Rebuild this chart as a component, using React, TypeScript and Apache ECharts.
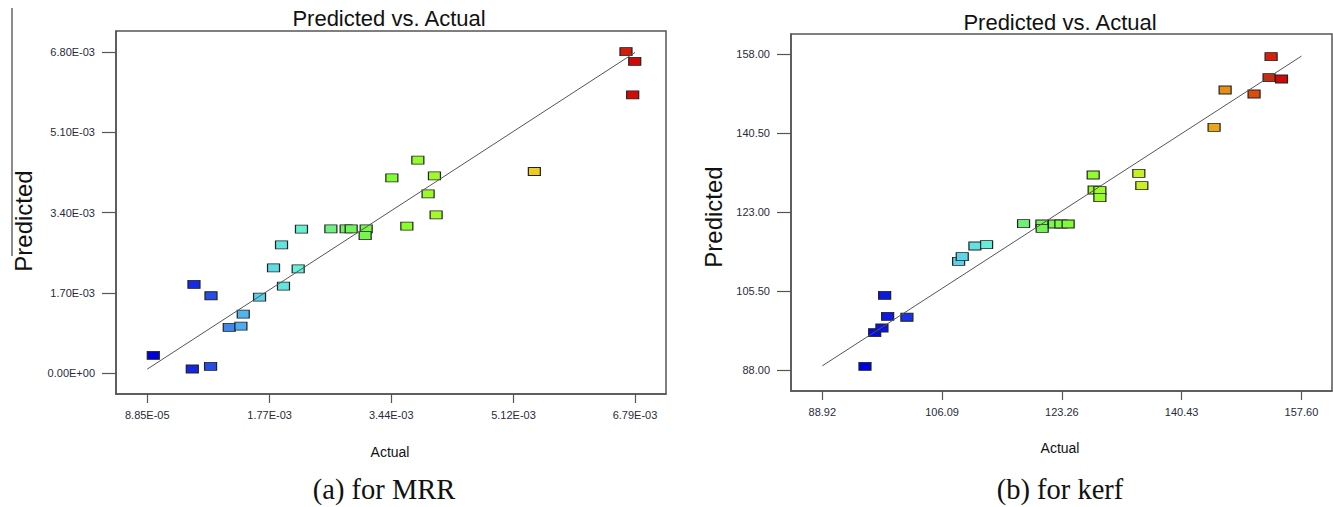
import React, { useEffect, useRef } from "react";
import * as echarts from "echarts";

// ---- Data: (a) MRR ----
const mrrActual = [
  1.71e-4, 7.07e-4, 9.58e-4, 7.3e-4, 9.64e-4, 1.215e-3, 1.375e-3, 1.407e-3,
  1.631e-3, 1.96e-3, 1.823e-3, 2.162e-3, 1.933e-3, 2.207e-3, 2.611e-3,
  2.821e-3, 2.89e-3, 3.096e-3, 3.082e-3, 3.449e-3, 3.806e-3, 4.034e-3,
  3.947e-3, 4.057e-3, 3.655e-3, 5.407e-3, 6.666e-3, 6.786e-3, 6.758e-3,
];
const mrrPredicted = [
  3.81e-4, 9.1e-5, 1.48e-4, 1.882e-3, 1.641e-3, 9.73e-4, 1.0e-3, 1.254e-3,
  1.613e-3, 1.846e-3, 2.233e-3, 2.212e-3, 2.719e-3, 3.051e-3, 3.057e-3,
  3.057e-3, 3.057e-3, 3.057e-3, 2.914e-3, 4.136e-3, 4.51e-3, 4.178e-3,
  3.797e-3, 3.353e-3, 3.115e-3, 4.271e-3, 6.808e-3, 6.603e-3, 5.891e-3,
];
const mrrXTicks = [8.85e-5, 1.77e-3, 3.44e-3, 5.12e-3, 6.79e-3];
const mrrYTicks = [0, 1.7e-3, 3.4e-3, 5.1e-3, 6.8e-3];

// ---- Data: (b) kerf ----
const kerfActual = [
  95.04, 96.43, 97.47, 98.29, 97.86, 101.05, 108.46, 108.98, 110.8, 112.47,
  117.77, 120.4, 120.44, 122.19, 123.12, 124.16, 127.75, 127.89, 128.71,
  128.71, 134.29, 134.72, 145.08, 146.66, 150.81, 153.25, 152.96, 154.74,
];
const kerfPredicted = [
  88.82, 96.27, 97.31, 99.91, 104.56, 99.69, 112.1, 113.12, 115.49, 115.78,
  120.44, 120.37, 119.42, 120.37, 120.37, 120.37, 131.24, 127.91, 127.76,
  126.2, 131.61, 128.87, 141.81, 150.08, 149.2, 157.47, 152.81, 152.52,
];
const kerfXTicks = [88.92, 106.09, 123.26, 140.43, 157.6];
const kerfYTicks = [88, 105.5, 123, 140.5, 158];

const titles = ["Predicted vs. Actual", "Predicted vs. Actual"];
const captions = ["(a) for MRR", "(b) for kerf"];

const palette = [
  "#0000dd", "#1a30e4", "#58c8f0", "#66f0d8", "#70f060", "#80ff30",
  "#a8f828", "#dcec20", "#f0c820", "#e07010", "#d00808",
];

function sci(v: number): string {
  if (v === 0) return "0.00E+00";
  let e = Math.floor(Math.log10(Math.abs(v)));
  let m = v / Math.pow(10, e);
  if (Math.abs(m) >= 9.995) {
    m /= 10;
    e += 1;
  }
  const s = e < 0 ? "-" : "+";
  return m.toFixed(2) + "E" + s + String(Math.abs(e)).padStart(2, "0");
}

const FONT = "'Liberation Sans', Arial, sans-serif";

function makeAxis(
  gridIndex: number,
  min: number,
  max: number,
  ticks: number[],
  fmt: (v: number) => string,
  isX: boolean
) {
  return {
    type: "value",
    gridIndex,
    min,
    max,
    splitLine: { show: false },
    axisLine: { show: true, onZero: false, lineStyle: { color: "#555", width: 1.5 } },
    axisTick: {
      show: true,
      customValues: ticks,
      length: isX ? 9 : 14,
      lineStyle: { color: "#555", width: 1.2 },
    },
    axisLabel: {
      customValues: ticks,
      formatter: (v: number) => fmt(v),
      fontFamily: FONT,
      fontSize: 11,
      color: "#2a2a3a",
      margin: isX ? 15 : 21,
    },
  };
}

export default function App() {
  const ref = useRef<HTMLDivElement>(null);
  useEffect(() => {
    if (!ref.current) return;
    const chart = echarts.init(ref.current, undefined, { renderer: "svg" });
    const mrrData = mrrActual.map((a, i) => [a, mrrPredicted[i]]);
    const kerfData = kerfActual.map((a, i) => [a, kerfPredicted[i]]);
    const scatterStyle = {
      type: "scatter",
      symbol: "rect",
      symbolSize: [12, 8],
      itemStyle: { borderColor: "#222", borderWidth: 1, opacity: 1 },
      z: 2,
    };
    const lineStyle = {
      type: "line",
      symbol: "none",
      lineStyle: { color: "#555", width: 1 },
      z: 3,
      silent: true,
    };
    chart.setOption({
      animation: false,
      grid: [
        { left: 116, top: 31, width: 550, height: 363, show: true, borderColor: "#555", borderWidth: 1.5 },
        { left: 791, top: 34, width: 541, height: 357, show: true, borderColor: "#555", borderWidth: 1.5 },
      ],
      xAxis: [
        makeAxis(0, -3.413e-4, 7.2157e-3, mrrXTicks, sci, true),
        makeAxis(1, 84.436, 161.98, kerfXTicks, (v) => v.toFixed(2), true),
      ],
      yAxis: [
        makeAxis(0, -4.377e-4, 7.244e-3, mrrYTicks, sci, false),
        makeAxis(1, 83.344, 162.5, kerfYTicks, (v) => v.toFixed(2), false),
      ],
      visualMap: [
        {
          type: "continuous",
          show: false,
          seriesIndex: 0,
          dimension: 0,
          min: Math.min(...mrrActual),
          max: Math.max(...mrrActual),
          inRange: { color: palette },
        },
        {
          type: "continuous",
          show: false,
          seriesIndex: 2,
          dimension: 0,
          min: Math.min(...kerfActual),
          max: Math.max(...kerfActual),
          inRange: { color: palette },
        },
      ],
      series: [
        { ...scatterStyle, xAxisIndex: 0, yAxisIndex: 0, data: mrrData },
        {
          ...lineStyle,
          xAxisIndex: 0,
          yAxisIndex: 0,
          data: [
            [mrrXTicks[0], mrrXTicks[0]],
            [mrrXTicks[mrrXTicks.length - 1], mrrXTicks[mrrXTicks.length - 1]],
          ],
        },
        { ...scatterStyle, xAxisIndex: 1, yAxisIndex: 1, data: kerfData },
        {
          ...lineStyle,
          xAxisIndex: 1,
          yAxisIndex: 1,
          data: [
            [kerfXTicks[0], kerfXTicks[0]],
            [kerfXTicks[kerfXTicks.length - 1], kerfXTicks[kerfXTicks.length - 1]],
          ],
        },
      ],
      graphic: [
        { type: "line", shape: { x1: 12, y1: 8, x2: 12, y2: 256 }, style: { stroke: "#666", lineWidth: 1.5 } },
        { type: "text", x: 389, y: 18, style: { text: titles[0], font: `22px ${FONT}`, fill: "#111", textAlign: "center", textVerticalAlign: "middle" } },
        { type: "text", x: 1060, y: 22, style: { text: titles[1], font: `22px ${FONT}`, fill: "#111", textAlign: "center", textVerticalAlign: "middle" } },
        { type: "text", x: 23, y: 221, rotation: Math.PI / 2, style: { text: "Predicted", font: `24px ${FONT}`, fill: "#111", textAlign: "center", textVerticalAlign: "middle" } },
        { type: "text", x: 713, y: 217, rotation: Math.PI / 2, style: { text: "Predicted", font: `24px ${FONT}`, fill: "#111", textAlign: "center", textVerticalAlign: "middle" } },
        { type: "text", x: 390, y: 452, style: { text: "Actual", font: `14px ${FONT}`, fill: "#111", textAlign: "center", textVerticalAlign: "middle" } },
        { type: "text", x: 1060, y: 448, style: { text: "Actual", font: `14px ${FONT}`, fill: "#111", textAlign: "center", textVerticalAlign: "middle" } },
        { type: "text", x: 384, y: 489, style: { text: captions[0], font: `28.5px 'Liberation Serif', 'Times New Roman', serif`, fill: "#111", textAlign: "center", textVerticalAlign: "middle" } },
        { type: "text", x: 1060, y: 489, style: { text: captions[1], font: `28.5px 'Liberation Serif', 'Times New Roman', serif`, fill: "#111", textAlign: "center", textVerticalAlign: "middle" } },
      ],
    });
    return () => chart.dispose();
  }, []);
  return (
    <div
      ref={ref}
      style={{ position: "absolute", left: 0, top: 0, width: 1333, height: 507, background: "#fff" }}
    />
  );
}
